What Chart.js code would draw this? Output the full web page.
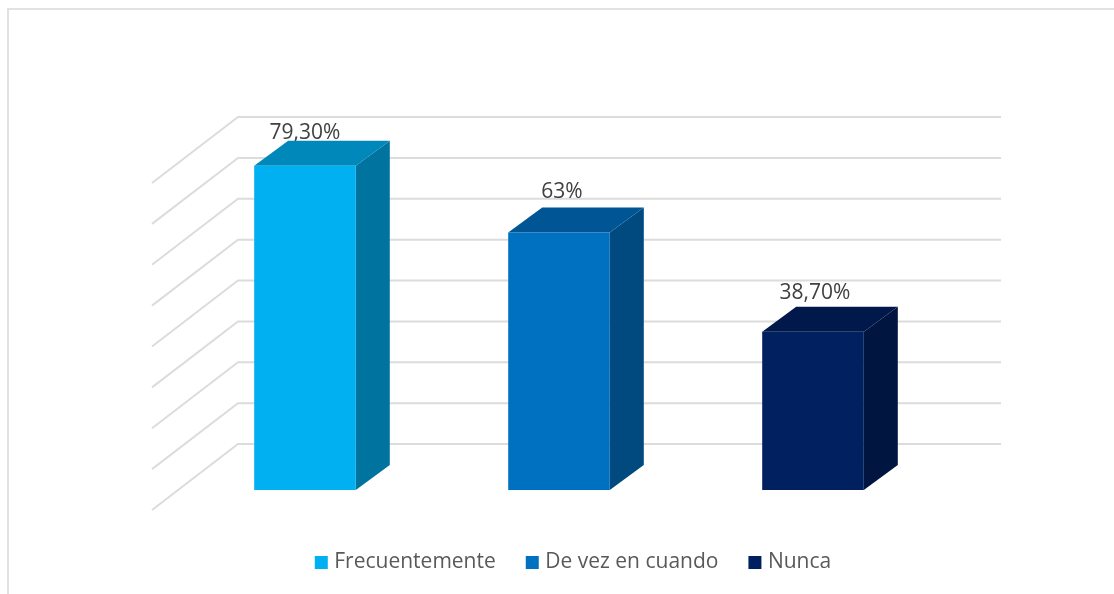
<!DOCTYPE html>
<html>
<head>
<meta charset="utf-8">
<style>
html,body{margin:0;padding:0;background:#fff;overflow:hidden}
#wrap{position:relative;width:1114px;height:594px}
#frame{position:absolute;left:7px;top:8px;right:0;bottom:0;border-left:2px solid #e2e2e2;border-top:2px solid #e2e2e2}
canvas{position:absolute;left:0;top:0;display:block}
</style>
<script src="https://cdn.jsdelivr.net/npm/chart.js@4/dist/chart.umd.min.js"></script>
</head>
<body>
<div id="wrap"><div id="frame"></div><canvas id="c" width="1114" height="594"></canvas></div>
<script>
const categories = ['Frecuentemente', 'De vez en cuando', 'Nunca'];
const values = [79.3, 63, 38.7];
const valueLabels = ['79,30%', '63%', '38,70%'];
const frontColors = ['#00B0F0', '#0070C0', '#002060'];
const sideColors = ['#00749F', '#004A7F', '#00153F'];
const topColors = ['#0088BA', '#005694', '#00194A'];
const labelRaise = [33, 40, 39];
const labelShift = [0, 3, 2];

const FONT = '"Open Sans", sans-serif';
const BAR_DX = 34, BAR_DY = -25;

const wall3d = {
  id: 'wall3d',
  beforeDatasetsDraw(chart) {
    const { ctx, scales: { x, y } } = chart;
    ctx.save();
    ctx.strokeStyle = '#dcdcdc';
    ctx.lineWidth = 2;
    y.ticks.forEach(t => {
      const py = y.getPixelForValue(t.value);
      ctx.beginPath();
      ctx.moveTo(x.left - 26, py + 20);
      ctx.lineTo(x.left + 60, py - 46);
      ctx.lineTo(x.right + 61, py - 46);
      ctx.stroke();
    });
    const meta = chart.getDatasetMeta(0);
    // labels sit behind the bars
    ctx.fillStyle = '#404040';
    ctx.font = '21px ' + FONT;
    ctx.textAlign = 'center';
    ctx.textBaseline = 'middle';
    meta.data.forEach((b, i) => {
      ctx.fillText(valueLabels[i], b.x + labelShift[i], b.y - labelRaise[i]);
    });
    // side and top faces
    meta.data.forEach((b, i) => {
      const l = b.x - b.width / 2, r = b.x + b.width / 2;
      ctx.fillStyle = sideColors[i];
      ctx.beginPath();
      ctx.moveTo(r, b.y);
      ctx.lineTo(r + BAR_DX, b.y + BAR_DY);
      ctx.lineTo(r + BAR_DX, b.base + BAR_DY);
      ctx.lineTo(r, b.base);
      ctx.closePath();
      ctx.fill();
      ctx.fillStyle = topColors[i];
      ctx.beginPath();
      ctx.moveTo(l, b.y);
      ctx.lineTo(l + BAR_DX, b.y + BAR_DY);
      ctx.lineTo(r + BAR_DX, b.y + BAR_DY);
      ctx.lineTo(r, b.y);
      ctx.closePath();
      ctx.fill();
    });
    ctx.restore();
  }
};

new Chart(document.getElementById('c'), {
  type: 'bar',
  data: {
    labels: categories,
    datasets: [{
      data: values,
      backgroundColor: frontColors,
      borderWidth: 0,
      barPercentage: 1,
      categoryPercentage: 0.4
    }]
  },
  plugins: [wall3d],
  options: {
    responsive: false,
    animation: false,
    layout: { padding: { left: 178, right: 142, top: 163, bottom: 11 } },
    scales: {
      x: {
        grid: { display: false },
        border: { display: false },
        ticks: { display: false },
        afterFit(s) { s.height = 28; }
      },
      y: {
        position: 'right',
        grid: { display: false },
        border: { display: false },
        ticks: { display: false, stepSize: 10 },
        afterFit(s) { s.width = 32; },
        min: 0,
        max: 80
      }
    },
    plugins: {
      tooltip: { enabled: false },
      legend: {
        position: 'bottom',
        labels: {
          usePointStyle: true,
          pointStyle: 'rect',
          boxWidth: 5,
          boxHeight: 13,
          padding: 34,
          color: '#595959',
          font: { family: FONT, size: 21 },
          generateLabels: () => categories.map((c, i) => ({
            text: c,
            fillStyle: frontColors[i],
            strokeStyle: frontColors[i],
            lineWidth: 0,
            pointStyle: 'rect',
            index: i,
            hidden: false,
            fontColor: '#595959'
          }))
        }
      }
    }
  }
});
</script>
</body>
</html>
